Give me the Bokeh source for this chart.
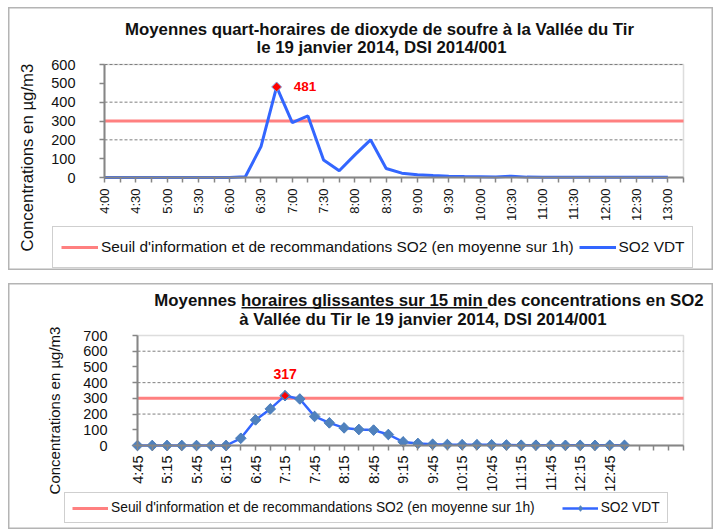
import math
from bokeh.plotting import figure
from bokeh.models import (FixedTicker, Range1d, Label, Legend, LegendItem, BoxAnnotation)
from bokeh.core.properties import value
from bokeh.layouts import column
from bokeh.embed import file_html
from bokeh.resources import INLINE

FONT = "Liberation Sans"

# ---------------- data ----------------
top_labels = ["4:00", "4:15", "4:30", "4:45", "5:00", "5:15", "5:30", "5:45",
              "6:00", "6:15", "6:30", "6:45", "7:00", "7:15", "7:30", "7:45",
              "8:00", "8:15", "8:30", "8:45", "9:00", "9:15", "9:30", "9:45",
              "10:00", "10:15", "10:30", "10:45", "11:00", "11:15", "11:30", "11:45",
              "12:00", "12:15", "12:30", "12:45", "13:00"]
top_values = [0, 0, 0, 0, 0, 0, 0, 0,
              0, 4, 164, 481, 291, 327, 93, 36,
              120, 200, 48, 23, 14, 10, 7, 5,
              4, 3, 7, 2, 1, 1, 1, 1,
              1, 1, 1, 1, 1]

bot_labels = ["4:45", "5:00", "5:15", "5:30", "5:45", "6:00", "6:15", "6:30",
              "6:45", "7:00", "7:15", "7:30", "7:45", "8:00", "8:15", "8:30",
              "8:45", "9:00", "9:15", "9:30", "9:45", "10:00", "10:15", "10:30",
              "10:45", "11:00", "11:15", "11:30", "11:45", "12:00", "12:15", "12:30",
              "12:45", "13:00"]
bot_values = [0, 0, 0, 0, 0, 0, 0, 46,
              163, 233, 317, 296, 185, 144, 112, 102,
              98, 70, 23, 13, 8, 6, 5, 5,
              4, 3, 2, 2, 1, 1, 1, 1,
              1, 1]

threshold = 300
thr_label = "Seuil d'information et de recommandations SO2 (en moyenne sur 1h)"
series_label = "SO2 VDT"
ylabel = "Concentrations en µg/m3"

top_title = ["Moyennes quart-horaires de dioxyde de soufre à la Vallée du Tir",
             "le 19 janvier 2014, DSI 2014/001"]
bot_title = ["Moyennes horaires glissantes sur 15 min des concentrations en SO2",
             "à Vallée du Tir  le 19 janvier  2014, DSI 2014/001"]

top_axis_slots = 38   # category slots on the axis (one spare after 13:00)
bot_axis_slots = 38   # spare empty categories after 13:00
top_ymax, bot_ymax = 600, 700
grid_ticks = [200, 400, 600]

LINE_BLUE = "#3366ff"
MARK_BLUE = "#4f81bd"
THR_RED = "#ff8080"
AX_GRAY = "#868686"
TXT = "#111111"

# ---------------- layout (page pixels) ----------------
PAGE_X0 = 8
W = 705
TOP_Y0, TOP_H = 7, 263          # top chart canvas
GAP = 13
BOT_Y0 = TOP_Y0 + TOP_H + GAP   # 283
BOT_H = 246
TOP_AREA = dict(left=104, right=683, top=64, bottom=177)
BOT_AREA = dict(left=137, right=683, top=335, bottom=445)


def ranges(y0, h, area, n_slots, ymax):
    kx = (area["right"] - area["left"]) / (n_slots - 1)
    xs = -(area["left"] - PAGE_X0) / kx
    xe = (n_slots - 1) + (PAGE_X0 + W - area["right"]) / kx
    ky = (area["bottom"] - area["top"]) / ymax
    ys = -((y0 + h) - area["bottom"]) / ky
    ye = ymax + (area["top"] - y0) / ky
    return Range1d(xs, xe), Range1d(ys, ye)


def base_fig(y0, h, area, n_slots, ymax, labels, xfs, xstand, ystand):
    xr, yr = ranges(y0, h, area, n_slots, ymax)
    p = figure(width=W, height=h, output_backend="svg", toolbar_location=None,
               title=None, x_range=xr, y_range=yr,
               min_border=0, min_border_left=0, min_border_right=0,
               min_border_top=0, min_border_bottom=0)
    p.background_fill_color = "white"
    p.border_fill_color = "white"
    p.outline_line_color = "#b4b4b4"
    p.outline_line_width = 2
    p.xgrid.visible = False
    p.ygrid.visible = False

    # dashed gridlines across the plot area only
    gt = [t for t in grid_ticks if t <= ymax]
    p.segment(x0=[0] * len(gt), x1=[n_slots - 1] * len(gt), y0=gt, y1=gt,
              line_color="#7f7f7f", line_dash="3 2", line_width=1)
    # plot-area border
    p.add_layout(BoxAnnotation(left=0, right=n_slots - 1, bottom=0, top=ymax,
                               fill_alpha=0, line_color="#8f8f8f", line_width=1.5,
                               level="underlay"))

    xa = p.xaxis[0]
    xa.fixed_location = 0
    xa.bounds = (0, n_slots - 1)
    xa.ticker = FixedTicker(ticks=list(range(n_slots)))
    xa.major_label_overrides = {i: (labels[i] if (i < len(labels) and i % 2 == 0) else "")
                                for i in range(n_slots)}
    xa.major_label_orientation = math.pi / 2
    xa.major_label_text_font = FONT
    xa.major_label_text_font_size = xfs
    xa.major_label_text_color = TXT
    xa.major_label_standoff = xstand
    xa.major_tick_in = 0
    xa.major_tick_out = 5
    xa.minor_tick_out = 0
    xa.minor_tick_in = 0
    xa.axis_line_color = AX_GRAY
    xa.axis_line_width = 2
    xa.major_tick_line_color = AX_GRAY
    xa.major_tick_line_width = 1.5

    ya = p.yaxis[0]
    ya.fixed_location = 0
    ya.bounds = (0, ymax)
    ya.ticker = FixedTicker(ticks=list(range(0, ymax + 1, 100)))
    ya.major_label_text_font = FONT
    ya.major_label_text_font_size = "14.5px"
    ya.major_label_text_color = TXT
    ya.major_label_standoff = ystand
    ya.major_tick_in = 0
    ya.major_tick_out = 5
    ya.minor_tick_out = 0
    ya.minor_tick_in = 0
    ya.axis_line_color = AX_GRAY
    ya.axis_line_width = 2
    ya.major_tick_line_color = AX_GRAY
    ya.major_tick_line_width = 1.5
    return p


def label(p, y0, h, px, py, text, size, bold=True, angle=0.0):
    # px, py: page coordinates of the text centre
    p.add_layout(Label(x=px - PAGE_X0, y=(y0 + h) - py, x_units="screen", y_units="screen",
                       text=text, text_align="center", text_baseline="middle",
                       text_font=FONT, text_font_size=size,
                       text_font_style="bold" if bold else "normal",
                       text_color=TXT, angle=angle))


def legend(p, y0, h, items, box_left, box_bottom, padding, spacing, gw, gh, size):
    p.add_layout(Legend(items=items, location=(box_left - PAGE_X0, (y0 + h) - box_bottom),
                        orientation="horizontal",
                        padding=padding, spacing=spacing, margin=0,
                        glyph_width=gw, glyph_height=gh, label_height=gh, label_standoff=3,
                        label_text_font=FONT, label_text_font_size=size,
                        label_text_color=TXT,
                        border_line_color="#a0a0a0", border_line_width=1,
                        background_fill_color="white", background_fill_alpha=1))


# ---------------- top chart ----------------
p1 = base_fig(TOP_Y0, TOP_H, TOP_AREA, top_axis_slots, top_ymax, top_labels, "13px", 6, 24)
tx = list(range(len(top_values)))
r_thr1 = p1.line([0, top_axis_slots - 1], [threshold, threshold], line_color=THR_RED, line_width=3)
r_ser1 = p1.line(tx, top_values, line_color=LINE_BLUE, line_width=3)
i1 = top_values.index(max(top_values))
p1.scatter([i1], [top_values[i1]], marker="square", angle=math.pi / 4, size=7,
           fill_color="red", line_color="#7aa6e6", line_width=1)
p1.text([i1], [top_values[i1]], text=[str(top_values[i1])], x_offset=17,
        text_baseline="middle", text_color="red", text_font=value(FONT),
        text_font_style="bold", text_font_size="13.5px")

label(p1, TOP_Y0, TOP_H, 379, 28.5, top_title[0], "16.8px")
label(p1, TOP_Y0, TOP_H, 381, 46.5, top_title[1], "16.8px")
label(p1, TOP_Y0, TOP_H, 27, 157, ylabel, "16.8px", bold=False, angle=math.pi / 2)
legend(p1, TOP_Y0, TOP_H,
       [LegendItem(label=thr_label, renderers=[r_thr1]),
        LegendItem(label=series_label, renderers=[r_ser1])],
       52, 268, 8, 5, 37, 24, "15.4px")

# ---------------- bottom chart ----------------
p2 = base_fig(BOT_Y0, BOT_H, BOT_AREA, bot_axis_slots, bot_ymax, bot_labels, "14.5px", 5, 25)
bx = list(range(len(bot_values)))
r_thr2 = p2.line([0, bot_axis_slots - 1], [threshold, threshold], line_color=THR_RED, line_width=3)
r_ser2 = p2.line(bx, bot_values, line_color=LINE_BLUE, line_width=2.5)
# diamond used as legend swatch; hidden under the plotted markers
r_key2 = p2.scatter(bx, bot_values, marker="diamond", size=10,
                    fill_color=MARK_BLUE, line_color=MARK_BLUE)
p2.scatter(bx, bot_values, marker="square", angle=math.pi / 4, size=7.5,
           fill_color=MARK_BLUE, line_color=MARK_BLUE, line_width=1)
i2 = bot_values.index(max(bot_values))
p2.scatter([i2], [bot_values[i2]], marker="square", angle=math.pi / 4, size=4.5,
           fill_color="red", line_color="red")
p2.text([i2], [bot_values[i2]], text=[str(bot_values[i2])], y_offset=-22,
        text_align="center", text_baseline="middle", text_color="red",
        text_font=value(FONT), text_font_style="bold", text_font_size="14px")

label(p2, BOT_Y0, BOT_H, 428.5, 300, bot_title[0], "16.8px")
label(p2, BOT_Y0, BOT_H, 427, 319, bot_title[1], "16.8px")
# underline of "horaires glissantes sur 15 min"
p2.add_layout(BoxAnnotation(left=241 - PAGE_X0, right=487 - PAGE_X0,
                            bottom=(BOT_Y0 + BOT_H) - 308, top=(BOT_Y0 + BOT_H) - 306.5,
                            left_units="screen", right_units="screen",
                            bottom_units="screen", top_units="screen",
                            fill_color=TXT, fill_alpha=1, line_alpha=0))
label(p2, BOT_Y0, BOT_H, 54, 410, ylabel, "15px", bold=False, angle=math.pi / 2)
legend(p2, BOT_Y0, BOT_H,
       [LegendItem(label=thr_label, renderers=[r_thr2]),
        LegendItem(label=series_label, renderers=[r_ser2, r_key2])],
       64, 523, 7, 27, 36, 14, "13.8px")

layout = column(p1, p2, spacing=GAP, margin=(TOP_Y0, 0, 0, PAGE_X0))
open("out.html", "w").write(file_html(layout, INLINE))
